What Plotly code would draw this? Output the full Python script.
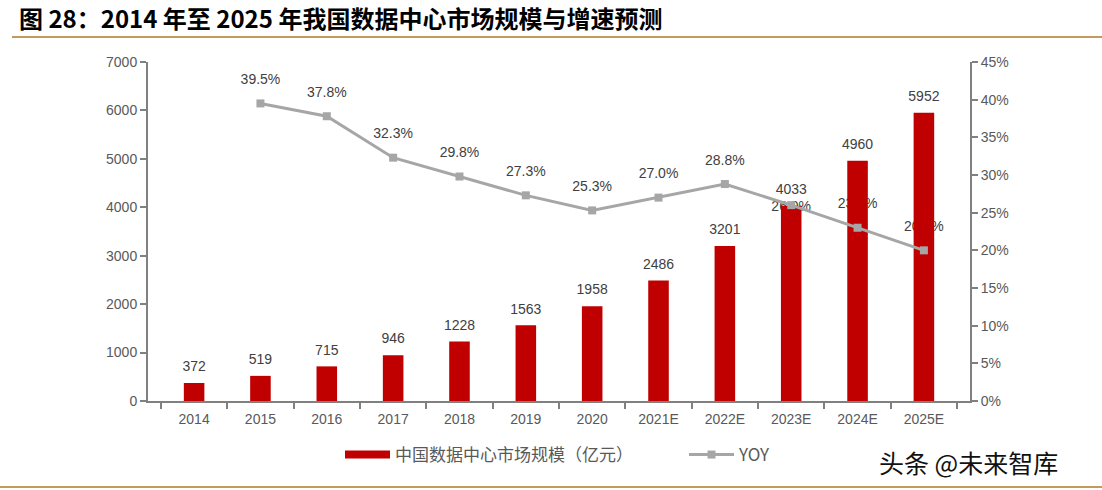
import plotly.graph_objects as go

categories = ["2014", "2015", "2016", "2017", "2018", "2019", "2020",
              "2021E", "2022E", "2023E", "2024E", "2025E"]
market_size = [372, 519, 715, 946, 1228, 1563, 1958, 2486, 3201, 4033, 4960, 5952]
yoy_pct = [None, 39.5, 37.8, 32.3, 29.8, 27.3, 25.3, 27.0, 28.8, 26.0, 23.0, 20.0]
left_ticks = [0, 1000, 2000, 3000, 4000, 5000, 6000, 7000]
right_ticks = [0, 5, 10, 15, 20, 25, 30, 35, 40, 45]
right_tick_text = [f"{v}%" for v in right_ticks]

TICK_FONT = dict(family="Liberation Sans, DejaVu Sans", size=14, color="#595959")
LABEL_FONT = dict(family="Liberation Sans, DejaVu Sans", size=14, color="#404040")
AXIS_COLOR = "#808080"
GOLD = "#C49A5A"
RED = "#C00000"
GREY = "#A6A6A6"

PLOT_W = 822  # plot area width in px (1102 - 148 - 132)
PLOT_H = 339  # plot area height in px (490 - 62 - 89)

# in the reference the 2023E growth label sits on its marker (below the bar label)
LOW_LABEL = "2023E"
yoy_label_pos = ["middle center" if c == LOW_LABEL else "top center" for c in categories]
yoy_label_text = [
    None if v is None else (f"<br><br>{v:.1f}%" if c == LOW_LABEL else f"{v:.1f}%")
    for c, v in zip(categories, yoy_pct)
]

fig = go.Figure()

# line labels on the bottom layer (drawn under the bars, as in the reference)
fig.add_trace(go.Scatter(
    x=categories, y=yoy_pct, mode="text",
    text=yoy_label_text,
    textposition=yoy_label_pos, textfont=LABEL_FONT,
    yaxis="y", showlegend=False, hoverinfo="skip", cliponaxis=False,
))

fig.add_trace(go.Bar(
    x=categories, y=market_size, name="中国数据中心市场规模（亿元）",
    marker=dict(color=RED, line=dict(width=0)), width=0.31,
    yaxis="y2", showlegend=False,
))

# legend proxy for the bar series (wide red rectangle like the reference)
fig.add_trace(go.Scatter(
    x=[None], y=[None], name="中国数据中心市场规模（亿元）", mode="lines",
    line=dict(color=RED, width=8), yaxis="y2", hoverinfo="skip",
))

fig.add_trace(go.Scatter(
    x=categories, y=yoy_pct, name="YOY", mode="lines+markers",
    line=dict(color=GREY, width=3),
    marker=dict(symbol="square", size=8, color=GREY),
    yaxis="y3", connectgaps=False,
))

# bar value labels
fig.add_trace(go.Scatter(
    x=categories, y=market_size, mode="text",
    text=[str(v) for v in market_size],
    textposition="top center", textfont=LABEL_FONT,
    yaxis="y4", showlegend=False, hoverinfo="skip", cliponaxis=False,
))

fig.update_layout(
    width=1102, height=490,
    paper_bgcolor="white", plot_bgcolor="white",
    margin=dict(l=148, r=132, t=62, b=89, autoexpand=False),
    showlegend=True,
    legend=dict(orientation="h", x=(340 - 148) / PLOT_W, xanchor="left",
                y=-54 / PLOT_H, yanchor="middle",
                font=dict(family="Noto Sans CJK SC", size=17, color="#595959"),
                itemwidth=45, entrywidth=284, traceorder="normal",
                bgcolor="rgba(0,0,0,0)"),
    xaxis=dict(type="category", categoryorder="array", categoryarray=categories,
               showline=True, linecolor=AXIS_COLOR, linewidth=2,
               ticks="outside", tickson="boundaries", ticklen=6, tickcolor=AXIS_COLOR,
               tickwidth=2, tickfont=TICK_FONT, showgrid=False, zeroline=False,
               ticklabelstandoff=4),
    yaxis=dict(range=[-2.1, 42.9], visible=False, showgrid=False, zeroline=False),
    yaxis2=dict(range=[0, 7000], tickvals=left_ticks, overlaying="y", side="left",
                showline=True, linecolor=AXIS_COLOR, linewidth=2,
                ticks="outside", ticklen=6, tickcolor=AXIS_COLOR, tickwidth=2,
                tickfont=TICK_FONT, showgrid=False, zeroline=False),
    yaxis3=dict(range=[0, 45], tickvals=right_ticks, ticktext=right_tick_text,
                overlaying="y", side="right", showline=True, linecolor=AXIS_COLOR,
                linewidth=2, ticks="outside", ticklen=6, tickcolor=AXIS_COLOR,
                tickwidth=2, tickfont=TICK_FONT, showgrid=False, zeroline=False),
    yaxis4=dict(range=[-170, 6830], overlaying="y", visible=False,
                showgrid=False, zeroline=False),
    shapes=[
        dict(type="line", xref="paper", yref="paper", x0=-136 / PLOT_W,
             x1=(1102 - 148) / PLOT_W, y0=1 + 25 / PLOT_H, y1=1 + 25 / PLOT_H,
             line=dict(color=GOLD, width=2)),
        dict(type="line", xref="paper", yref="paper", x0=-148 / PLOT_W,
             x1=(1102 - 148) / PLOT_W, y0=-86 / PLOT_H, y1=-86 / PLOT_H,
             line=dict(color=GOLD, width=2)),
    ],
    annotations=[
        dict(text="<b>图 28：2014 年至 2025 年我国数据中心市场规模与增速预测</b>",
             xref="paper", yref="paper", x=-131 / PLOT_W, y=1 + 45 / PLOT_H,
             xanchor="left", yanchor="middle", showarrow=False,
             font=dict(family="Noto Sans CJK SC", size=24, color="#000000")),
        dict(text="头条 @未来智库", xref="paper", yref="paper",
             x=(1060 - 148) / PLOT_W, y=-61 / PLOT_H, xanchor="right", yanchor="middle",
             showarrow=False,
             font=dict(family="Noto Sans CJK SC", size=25, color="#111111")),
    ],
)

fig.write_html("out.html", config={"displayModeBar": False},
               post_script="document.body.style.margin='0';")
